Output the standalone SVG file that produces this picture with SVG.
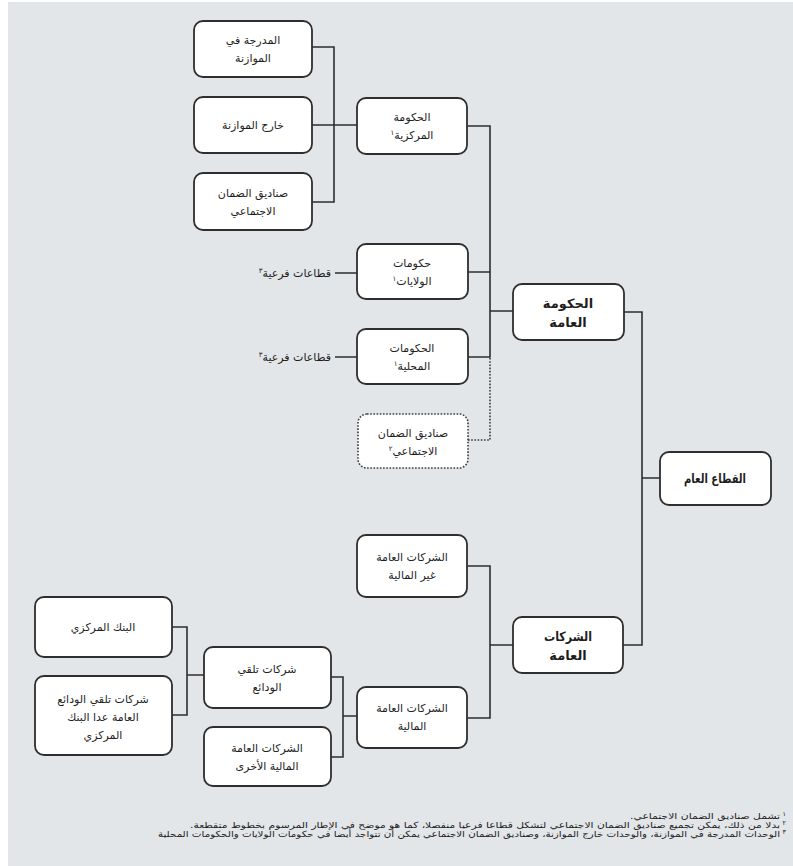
<svg xmlns="http://www.w3.org/2000/svg" width="793" height="866" viewBox="0 0 793 866">
<style>
.box{fill:#ffffff;stroke:#2e2e2e;stroke-width:1.8}
.dot{fill:#ffffff;stroke:#3a3a3a;stroke-width:1.6;stroke-dasharray:1.6 1.6}
.ln{fill:none;stroke:#2e2e2e;stroke-width:1.6}
.dl{fill:none;stroke:#3a3a3a;stroke-width:1.6;stroke-dasharray:1.6 1.6}
text{font-family:"DejaVu Sans","Noto Sans",sans-serif;fill:#1e1e1e;direction:rtl;unicode-bidi:embed}
.t{font-size:11px;text-anchor:middle}
.b{font-size:13px;font-weight:bold;text-anchor:middle}
.lab{font-size:11px;text-anchor:start}
.fn{font-size:8.5px;text-anchor:start;fill:#222}
.fd{font-size:6.5px;text-anchor:start;fill:#222}
.sup{font-size:7px}
</style>
<rect x="0" y="0" width="793" height="866" fill="#ffffff"/>
<rect x="8" y="2" width="785" height="864" fill="#e2e6e9"/>

<g id="connectors">
<path class="ln" d="M312 47 H334 V202 H312 M312 125 H357"/>
<path class="ln" d="M467 126 H490 V357 H468 M468 272 H490 M490 311 H513"/>
<path class="dl" d="M468 440 H490 V357"/>
<path class="ln" d="M335 273 H357 M335 357 H357"/>
<path class="ln" d="M624 312 H642 V645 H623 M642 478 H660"/>
<path class="ln" d="M467 566 H490 V718 H467 M490 645 H513"/>
<path class="ln" d="M357 716 H343 M331 677 H343 V757 H331"/>
<path class="ln" d="M172 627 H187 V715 H172 M187 675 H204"/>
</g>

<g id="n_budget">
<rect class="box" x="194" y="21" width="118" height="56" rx="9"/>
<text class="t" x="253" y="44">المدرجة في</text>
<text class="t" x="253" y="62">الموازنة</text>
</g>
<g id="n_extra">
<rect class="box" x="194" y="97" width="118" height="56" rx="9"/>
<text class="t" x="253" y="129">خارج الموازنة</text>
</g>
<g id="n_ssf1">
<rect class="box" x="194" y="173" width="118" height="57" rx="9"/>
<text class="t" x="253" y="197">صناديق الضمان</text>
<text class="t" x="253" y="215">الاجتماعي</text>
</g>
<g id="n_central">
<rect class="box" x="357" y="98" width="110" height="56" rx="9"/>
<text class="t" x="412" y="121">الحكومة</text>
<text class="t" x="412" y="139">المركزية<tspan class="sup" dy="-4">١</tspan></text>
</g>
<g id="n_state">
<rect class="box" x="357" y="244" width="111" height="55" rx="9"/>
<text class="t" x="412" y="267">حكومات</text>
<text class="t" x="412" y="285">الولايات<tspan class="sup" dy="-4">١</tspan></text>
</g>
<g id="n_sub1">
<text class="lab" x="331" y="277">قطاعات فرعية<tspan class="sup" dy="-4">٣</tspan></text>
</g>
<g id="n_local">
<rect class="box" x="357" y="329" width="111" height="55" rx="9"/>
<text class="t" x="412" y="352">الحكومات</text>
<text class="t" x="412" y="370">المحلية<tspan class="sup" dy="-4">١</tspan></text>
</g>
<g id="n_sub2">
<text class="lab" x="331" y="361">قطاعات فرعية<tspan class="sup" dy="-4">٣</tspan></text>
</g>
<g id="n_ssf2">
<rect class="dot" x="358" y="414" width="110" height="54" rx="9"/>
<text class="t" x="413" y="437">صناديق الضمان</text>
<text class="t" x="413" y="455">الاجتماعي<tspan class="sup" dy="-4">٢</tspan></text>
</g>
<g id="n_gg">
<rect class="box" x="513" y="284" width="111" height="56" rx="9"/>
<text class="b" x="568" y="308">الحكومة</text>
<text class="b" x="568" y="327">العامة</text>
</g>
<g id="n_ps">
<rect class="box" x="660" y="452" width="111" height="53" rx="9"/>
<text class="b" x="715" y="483" textLength="62" lengthAdjust="spacingAndGlyphs">القطاع العام</text>
</g>
<g id="n_nfpc">
<rect class="box" x="357" y="535" width="110" height="62" rx="9"/>
<text class="t" x="412" y="561">الشركات العامة</text>
<text class="t" x="412" y="579">غير المالية</text>
</g>
<g id="n_pc">
<rect class="box" x="513" y="617" width="110" height="56" rx="9"/>
<text class="b" x="568" y="641" textLength="48" lengthAdjust="spacingAndGlyphs">الشركات</text>
<text class="b" x="568" y="660">العامة</text>
</g>
<g id="n_fpc">
<rect class="box" x="357" y="687" width="110" height="61" rx="9"/>
<text class="t" x="412" y="712">الشركات العامة</text>
<text class="t" x="412" y="730">المالية</text>
</g>
<g id="n_dep">
<rect class="box" x="204" y="647" width="127" height="61" rx="9"/>
<text class="t" x="267" y="673">شركات تلقي</text>
<text class="t" x="267" y="691">الودائع</text>
</g>
<g id="n_other">
<rect class="box" x="204" y="727" width="127" height="59" rx="9"/>
<text class="t" x="267" y="752">الشركات العامة</text>
<text class="t" x="267" y="770">المالية الأخرى</text>
</g>
<g id="n_cb">
<rect class="box" x="35" y="597" width="137" height="60" rx="9"/>
<text class="t" x="103" y="631">البنك المركزي</text>
</g>
<g id="n_dep2">
<rect class="box" x="35" y="676" width="137" height="79" rx="9"/>
<text class="t" x="103" y="703">شركات تلقي الودائع</text>
<text class="t" x="103" y="721">العامة عدا البنك</text>
<text class="t" x="103" y="739">المركزي</text>
</g>

<g id="footnotes">
<text class="fd" x="786" y="816">١</text>
<text class="fn" x="780" y="819" textLength="150" lengthAdjust="spacingAndGlyphs">تشمل صناديق الضمان الاجتماعي.</text>
<text class="fd" x="786" y="825">٢</text>
<text class="fn" x="780" y="828" textLength="590" lengthAdjust="spacingAndGlyphs">بدلا من ذلك، يمكن تجميع صناديق الضمان الاجتماعي لتشكل قطاعا فرعيا منفصلا، كما هو موضح في الإطار المرسوم بخطوط متقطعة.</text>
<text class="fd" x="786" y="834">٣</text>
<text class="fn" x="780" y="837" textLength="622" lengthAdjust="spacingAndGlyphs">الوحدات المدرجة في الموازنة، والوحدات خارج الموازنة، وصناديق الضمان الاجتماعي يمكن أن تتواجد أيضا في حكومات الولايات والحكومات المحلية</text>
</g>
</svg>
